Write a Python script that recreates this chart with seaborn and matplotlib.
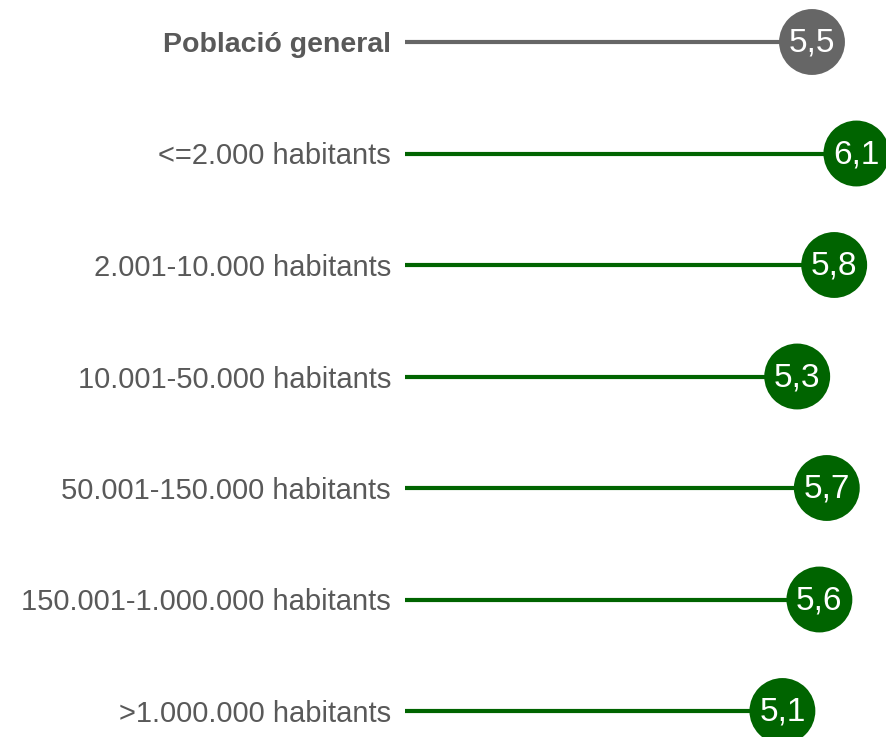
import matplotlib
matplotlib.use("Agg")
import matplotlib.pyplot as plt
import seaborn as sns
import pandas as pd

# dades
categories = ['Població general', '<=2.000 habitants', '2.001-10.000 habitants',
              '10.001-50.000 habitants', '50.001-150.000 habitants',
              '150.001-1.000.000 habitants', '>1.000.000 habitants']
values = [5.5, 6.1, 5.8, 5.3, 5.7, 5.6, 5.1]
groups = ['general', 'mida', 'mida', 'mida', 'mida', 'mida', 'mida']
palette = {'general': '#666666', 'mida': '#006400'}

df = pd.DataFrame({'cat': categories, 'valor': values, 'grup': groups})
df['pos'] = range(len(df))

sns.set_style("white")
plt.rcParams['font.family'] = ['Liberation Sans', 'DejaVu Sans']

fig = plt.figure(figsize=(8.87, 7.37), dpi=100)
ax = fig.add_axes([405 / 887, 0, 1 - 405 / 887, 1])

# linies de la piruleta
for _, r in df.iterrows():
    ax.hlines(r['pos'], 0, r['valor'], color=palette[r['grup']], lw=3, zorder=1)

sns.scatterplot(data=df, x='valor', y='pos', hue='grup', palette=palette,
                s=2250, linewidth=0, legend=False, ax=ax, zorder=2, clip_on=False)

for _, r in df.iterrows():
    ax.text(r['valor'], r['pos'] - 0.02, f"{r['valor']:.1f}".replace('.', ','),
            ha='center', va='center_baseline', color='white', fontsize=24, zorder=3)

ax.set_xlim(0, (887 - 405) / 74)
ax.set_ylim(6 + 26 / 111.5, -42 / 111.5)
ax.set_yticks(df['pos'])
ax.set_yticklabels(categories, fontsize=21, color='#595959')
ax.get_yticklabels()[0].set_fontweight('bold')
ax.get_yticklabels()[0].set_fontsize(20.5)
ax.tick_params(axis='y', length=0, pad=10)
ax.set_xticks([])
ax.set_xlabel('')
ax.set_ylabel('')
sns.despine(ax=ax, left=True, bottom=True)

fig.savefig('out.png', dpi=100)
